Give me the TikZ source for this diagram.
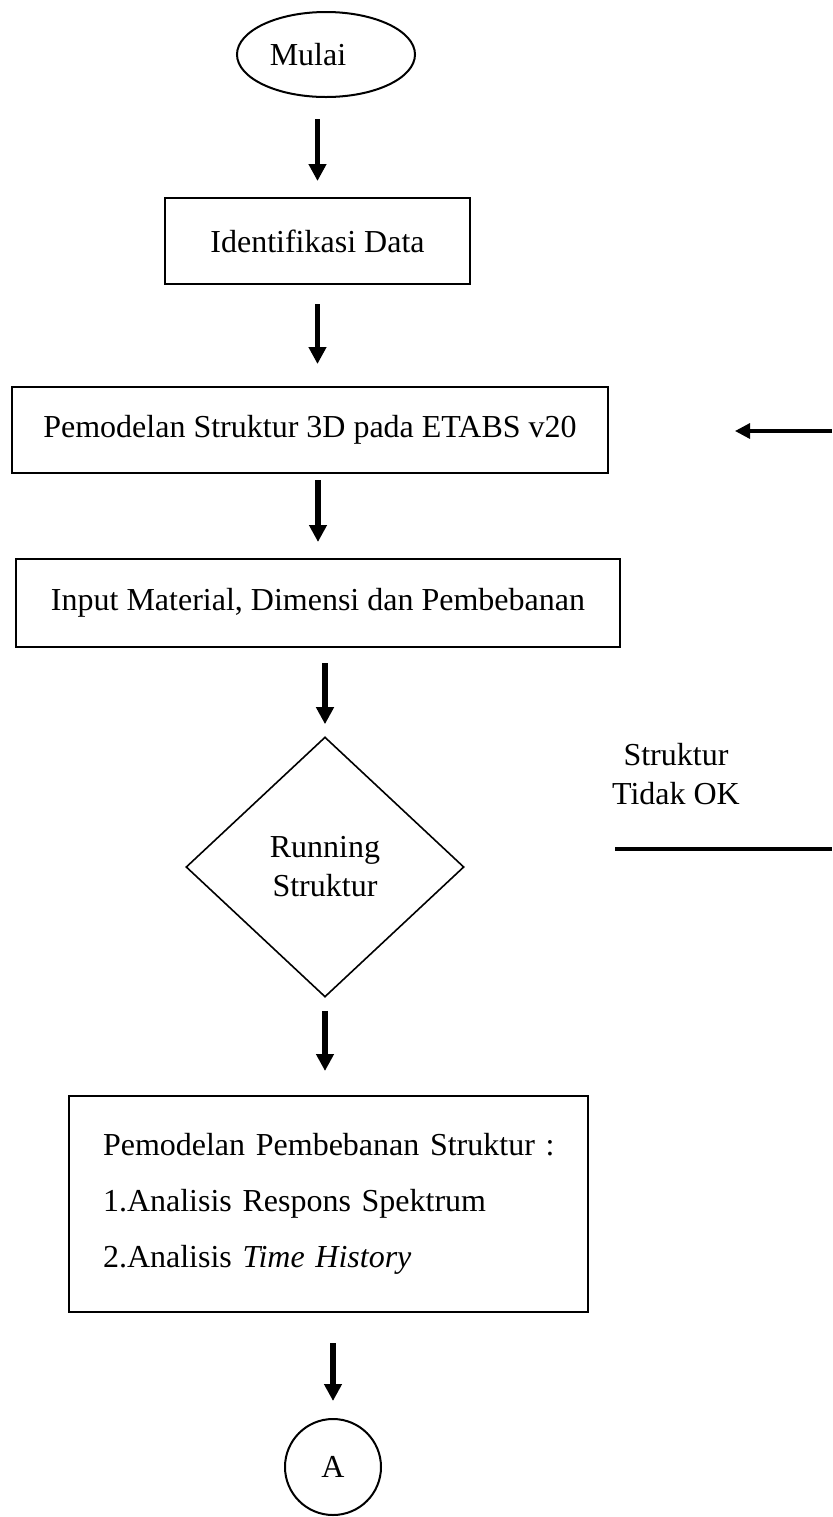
\documentclass[tikz,border=0pt]{standalone}
\usepackage{fontspec}
\setmainfont{Liberation Serif}
\usetikzlibrary{shapes.geometric,arrows.meta}

\tikzset{
  boxnode/.style={draw,line width=1pt,rectangle,inner sep=0pt},
  flow/.style={line width=2.9pt,-{Triangle[length=8.5pt,width=8.5pt]}},
  backline/.style={line width=1.6pt},
}

\begin{document}
\begin{tikzpicture}[x=0.5pt,y=-0.5pt,font=\fontsize{16}{19.5}\selectfont]
    \useasboundingbox (0,0) rectangle (832,1517);

    % blocks of the flow, at pixel positions of the sheet
    \node[draw,line width=1pt,ellipse,inner sep=0pt,minimum width=89pt,minimum height=42.5pt] (mulai) at (326,54.5) {};
    \node (mulaitext) at (308,55) {Mulai};
    \node[boxnode,minimum width=152.5pt,minimum height=43pt] (ident) at (317.5,241) {Identifikasi Data};
    \node[boxnode,minimum width=298pt,minimum height=43pt] (model3d) at (310,430) {Pemodelan Struktur 3D pada ETABS v20};
    \node[boxnode,minimum width=302pt,minimum height=44pt] (input) at (318,603) {Input Material, Dimensi dan Pembebanan};
    \node[draw,line width=0.8pt,diamond,inner sep=0pt,minimum width=139pt,minimum height=130pt,align=center] (running) at (325,867) {Running\\Struktur};
    \node[boxnode,minimum width=259.5pt,minimum height=108pt,inner xsep=17pt,text width=225.5pt,align=left,
          font=\fontsize{16}{28}\selectfont] (analisis) at (328.5,1204)
      {\mbox{Pemodelan Pembebanan Struktur :}\\1.Analisis Respons Spektrum\\2.Analisis \textit{Time History}};
    \node[draw,line width=1pt,circle,inner sep=0pt,minimum size=48pt] (conA) at (333,1467) {A};

    % loop back from the check
    \node[align=center] (notok) at (676,774) {Struktur\\Tidak OK};
    \coordinate (backin) at (832,431);
    \coordinate (backtip) at (735,431);
    \coordinate (loopstart) at (615,849);
    \coordinate (loopend) at (832,849);

    \draw[flow,shorten <=10.5pt,shorten >=8pt] (mulai.south -| ident.north) -- (ident.north);
    \draw[flow,shorten <=9.5pt,shorten >=11pt] (ident.south) -- (model3d.north -| ident.south);
    \draw[flow,shorten <=3pt,shorten >=8pt] (model3d.south -| input.north) -- (input.north);
    \draw[flow,shorten <=7.5pt,shorten >=6pt] (input.south -| running.north) -- (running.north);
    \draw[flow,shorten <=6.5pt,shorten >=12pt] (running.south) -- (running.south |- analisis.north);
    \draw[flow,shorten <=15pt,shorten >=8.5pt] (analisis.south -| conA.north) -- (conA.north);

    \draw[backline,-{Triangle[length=7.5pt,width=7.5pt]}] (backin) -- (backtip);
    \draw[backline] (loopstart) -- (loopend);
  \end{tikzpicture}
\end{document}
